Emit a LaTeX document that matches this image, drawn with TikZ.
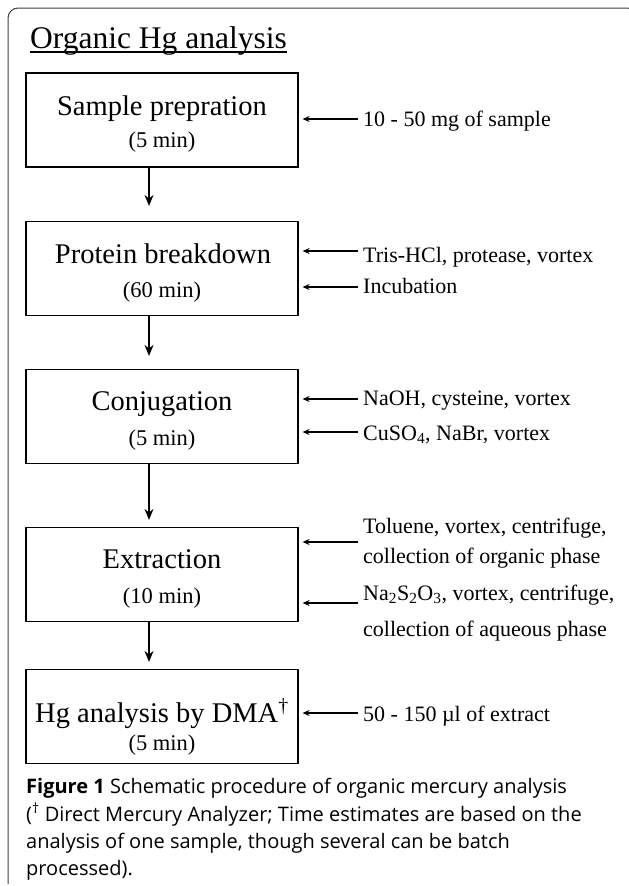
\documentclass[tikz,border=0pt]{standalone}
\usepackage{fontspec}
\setmainfont{Liberation Serif}
\newfontfamily\capfont{Open Sans}
\usetikzlibrary{arrows.meta}
\begin{document}
\begin{tikzpicture}[x=1pt,y=-1pt,
  box/.style={draw, line width=1.2pt, minimum width=272pt, minimum height=94pt, inner sep=0pt},
  maintxt/.style={anchor=base, inner sep=0pt, font=\fontsize{28.5}{30}\selectfont},
  timetxt/.style={anchor=base, inner sep=0pt, font=\fontsize{22.5}{24}\selectfont},
  lbl/.style={anchor=base west, inner sep=0pt, font=\fontsize{22}{26}\selectfont},
  captxt/.style={anchor=base west, inner sep=0pt, font=\capfont\fontsize{20}{24}\selectfont},
  varr/.style={-{Stealth[length=11pt,width=9pt]}, line width=1.3pt},
  harr/.style={-{Stealth[length=7pt,width=6pt]}, line width=1.1pt, shorten >=4pt},
]
\useasboundingbox (0,0) rectangle (629,886);
% frame
\draw[black!75, line width=1pt, rounded corners=10pt] (8,884) -- (8,8) -- (637,8) -- (637,60);
% title
\node[anchor=base west, inner sep=0pt, font=\fontsize{31.5}{34}\selectfont] (title) at (30,48) {Organic Hg analysis};
\draw[line width=1.4pt] ([yshift=-4pt]title.base west) -- ([yshift=-4pt]title.base east);
% boxes
\node[box] (b1) at (162,120) {};
\node[box] (b2) at (162,268.5) {};
\node[box] (b3) at (162,416.5) {};
\node[box] (b4) at (162,574.5) {};
\node[box] (b5) at (162,716.5) {};
% box texts
\node[maintxt] (t1) at (162,115) {Sample prepration};
\node[timetxt] (m1) at (162,147) {(5 min)};
\node[maintxt] (t2) at (163,263) {Protein breakdown};
\node[timetxt] (m2) at (162,297) {(60 min)};
\node[maintxt] (t3) at (162,410) {Conjugation};
\node[timetxt] (m3) at (162,445) {(5 min)};
\node[maintxt] (t4) at (162,568) {Extraction};
\node[timetxt] (m4) at (162,603) {(10 min)};
\node[maintxt] (t5) at (162,722) {Hg analysis by DMA\textsuperscript{†}};
\node[timetxt] (m5) at (162,750) {(5 min)};
% vertical arrows
\coordinate (a1) at ([xshift=-13pt]b1.south);
\coordinate (a2) at ([xshift=-13pt]b2.south);
\coordinate (a3) at ([xshift=-13pt]b3.south);
\coordinate (a4) at ([xshift=-13pt]b4.south);
\draw[varr, shorten >=15pt] (a1) -- (a1 |- b2.north);
\draw[varr, shorten >=13pt] (a2) -- (a2 |- b3.north);
\draw[varr, shorten >=7pt] (a3) -- (a3 |- b4.north);
\draw[varr, shorten >=7pt] (a4) -- (a4 |- b5.north);
% right labels
\node[lbl] (l1) at (363,126) {10 - 50 mg of sample};
\node[lbl] (l2) at (363,262) {Tris-HCl, protease, vortex};
\node[lbl] (l3) at (363,293) {Incubation};
\node[lbl] (l4) at (363,405) {NaOH, cysteine, vortex};
\node[lbl] (l5) at (363,440) {CuSO\textsubscript{4}, NaBr, vortex};
\node[lbl] (l6) at (363,533) {Toluene, vortex, centrifuge,};
\node[lbl] (l6b) at (363,563) {collection of organic phase};
\node[lbl] (l7) at (363,600) {Na\textsubscript{2}S\textsubscript{2}O\textsubscript{3}, vortex, centrifuge,};
\node[lbl] (l7b) at (363,636) {collection of aqueous phase};
\node[lbl] (l8) at (363,721) {50 - 150 µl of extract};
% label arrows
\coordinate (s1) at (358,119);
\coordinate (s2) at (358,251);
\coordinate (s3) at (358,287);
\coordinate (s4) at (358,399);
\coordinate (s5) at (358,432);
\coordinate (s6) at (358,542);
\coordinate (s7) at (358,603);
\coordinate (s8) at (358,713);
\draw[harr] (s1) -- (s1 -| b1.east);
\draw[harr] (s2) -- (s2 -| b2.east);
\draw[harr] (s3) -- (s3 -| b2.east);
\draw[harr] (s4) -- (s4 -| b3.east);
\draw[harr] (s5) -- (s5 -| b3.east);
\draw[harr] (s6) -- (s6 -| b4.east);
\draw[harr] (s7) -- (s7 -| b4.east);
\draw[harr] (s8) -- (s8 -| b5.east);
% caption
\node[captxt] (c1) at (26,793) {\textbf{Figure 1} Schematic procedure of organic mercury analysis};
\node[captxt] (c2) at (26,821) {(\textsuperscript{†} Direct Mercury Analyzer; Time estimates are based on the};
\node[captxt] (c3) at (26,848) {analysis of one sample, though several can be batch};
\node[captxt] (c4) at (26,875) {processed).};
\end{tikzpicture}
\end{document}
